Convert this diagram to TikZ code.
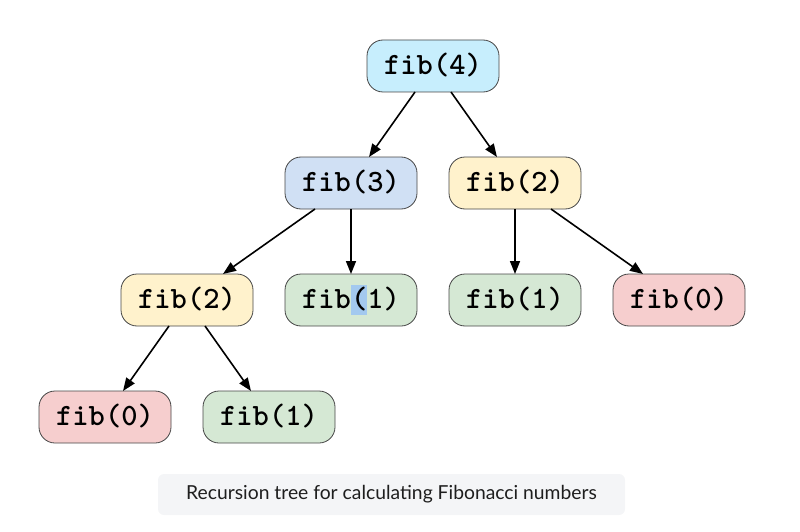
\documentclass[tikz,border=0pt]{standalone}
\usepackage{fontspec}
\usetikzlibrary{shapes,positioning,calc,arrows.meta}
\newfontfamily\capfont{Lato}
\definecolor{nodeline}{RGB}{70,70,70}
\definecolor{cyanfill}{RGB}{199,238,253}
\definecolor{bluefill}{RGB}{208,224,244}
\definecolor{yellowfill}{RGB}{255,242,204}
\definecolor{greenfill}{RGB}{213,232,212}
\definecolor{redfill}{RGB}{246,206,206}
\definecolor{selblue}{RGB}{163,201,239}
\definecolor{capgray}{RGB}{244,245,247}
\definecolor{captext}{RGB}{30,30,30}
\newcommand{\selhl}[1]{{\fboxsep=0pt\colorbox{selblue}{\rule[-6.5pt]{0pt}{30pt}#1}}}

\begin{document}
\begin{tikzpicture}
  [x=1pt,y=-1pt,node distance=32pt,
   >={Triangle[length=13pt,width=10pt]},
   fibN/.style={draw=nodeline,line width=0.8pt,rounded corners=16pt,
     minimum width=132pt,minimum height=52pt,inner sep=0pt,outer sep=0pt,
     text height=22pt,text depth=5pt,
     font=\ttfamily\bfseries\fontsize{31}{33}\selectfont},
   fourN/.style={fibN,fill=cyanfill},
   threeN/.style={fibN,fill=bluefill},
   twoN/.style={fibN,fill=yellowfill},
   oneN/.style={fibN,fill=greenfill},
   zeroN/.style={fibN,fill=redfill},
   capN/.style={fill=capgray,rounded corners=6pt,minimum width=467pt,
     minimum height=41pt,text=captext,font=\capfont\fontsize{19.3}{21}\selectfont},
   callE/.style={->,line width=1.6pt},
  ]
  \useasboundingbox (0,0) rectangle (800,532);

  % level 1 and 2
  \node[fourN]  (f4) at (433,66) {fib(4)};
  \node[threeN] (f3) at (351,183) {fib(3)};
  \node[twoN]   (f2a) [right=of f3] {fib(2)};

  % level 3
  \node[twoN]  (f2b) at (187,300) {fib(2)};
  \node[oneN]  (f1a) [right=of f2b] {fib\selhl{(}1)};
  \node[oneN]  (f1b) [right=of f1a] {fib(1)};
  \node[zeroN] (f0a) [right=of f1b] {fib(0)};

  % level 4
  \node[zeroN] (f0b) at (105,417) {fib(0)};
  \node[oneN]  (f1c) [right=of f0b] {fib(1)};

  \draw[callE] ([xshift=-18pt]f4.south) -- ([xshift=18pt]f3.north);
  \draw[callE] ([xshift=18pt]f4.south) -- ([xshift=-18pt]f2a.north);
  \draw[callE] ([xshift=-36pt]f3.south) -- ([xshift=36pt]f2b.north);
  \draw[callE] (f3.south) -- (f1a.north);
  \draw[callE] (f2a.south) -- (f1b.north);
  \draw[callE] ([xshift=36pt]f2a.south) -- ([xshift=-36pt]f0a.north);
  \draw[callE] ([xshift=-18pt]f2b.south) -- ([xshift=18pt]f0b.north);
  \draw[callE] ([xshift=18pt]f2b.south) -- ([xshift=-18pt]f1c.north);

  \node[capN] (cap) at (391.5,494.5) {Recursion tree for calculating Fibonacci numbers};
\end{tikzpicture}
\end{document}
